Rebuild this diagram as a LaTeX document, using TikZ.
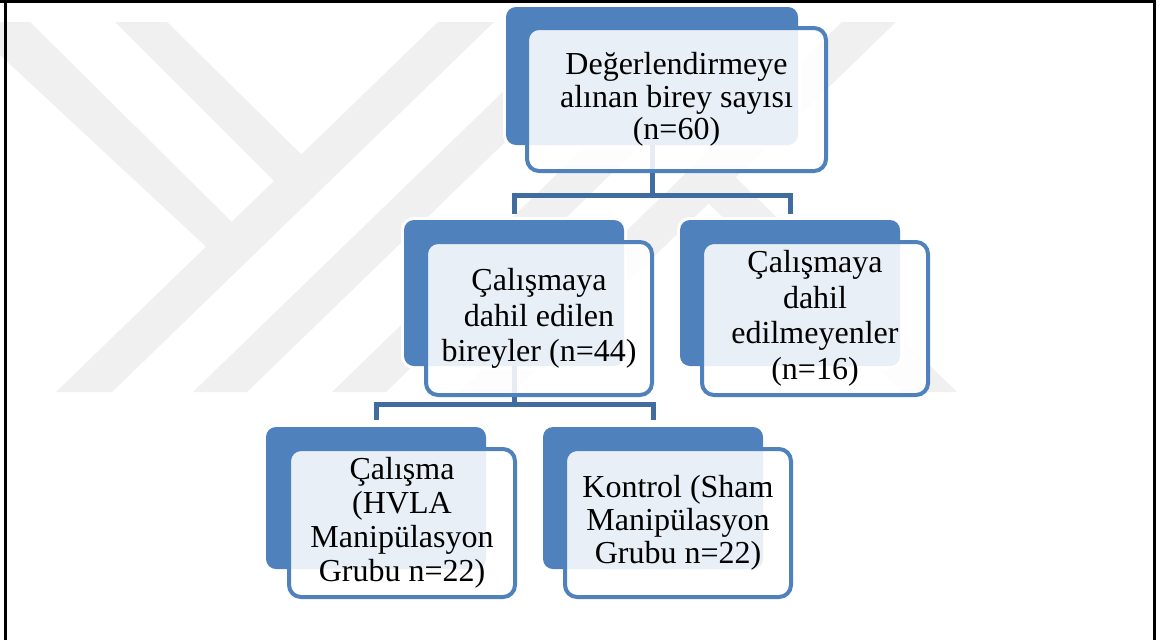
\documentclass[tikz,border=0pt]{standalone}
\usepackage{fontspec}
\setmainfont{Liberation Serif}
\definecolor{bblue}{RGB}{79,129,189}
\definecolor{cblue}{RGB}{64,108,160}
\definecolor{wmgray}{RGB}{240,240,240}
\begin{document}
\begin{tikzpicture}[x=1pt,y=-1pt,
  backbox/.style={fill=bblue, preaction={draw=white, line width=6pt},
    rounded corners=10pt, inner sep=0pt, outer sep=0pt, anchor=north west},
  frontbox/.style={fill=white, fill opacity=0.875, text opacity=1, draw=bblue,
    draw opacity=1, line width=4pt, rounded corners=12pt, inner sep=0pt,
    outer sep=0pt, align=center, text=black},
  conn/.style={draw=cblue, line width=5pt},
  wm/.style={fill=wmgray, draw=none}]
\useasboundingbox (0,0) rectangle (1161,640);
\fill[white] (0,0) rectangle (1161,640);
% watermark
\fill[wm] (0,22) -- (30,22) -- (240,230) -- (215,255) -- (0,55) -- cycle;
\fill[wm] (115,22) -- (167,22) -- (312,165) -- (285,192) -- cycle;
\fill[wm] (56,392) -- (112,392) -- (494,22) -- (438,22) -- cycle;
\fill[wm] (193,392) -- (247,392) -- (629,22) -- (575,22) -- cycle;
\fill[wm] (332,392) -- (386,392) -- (768,22) -- (714,22) -- cycle;
\fill[wm] (460,392) -- (514,392) -- (896,22) -- (842,22) -- cycle;
\fill[wm] (903,392) -- (957,392) -- (728,170) -- (705,200) -- cycle;
% back boxes
\node[backbox, minimum width=292pt, minimum height=138pt] (topB) at (506,7) {};
\node[backbox, minimum width=220pt, minimum height=146pt] (mlB) at (404,220) {};
\node[backbox, minimum width=220pt, minimum height=146pt] (mrB) at (680,220) {};
\node[backbox, minimum width=220pt, minimum height=142pt] (blB) at (266,427) {};
\node[backbox, minimum width=220pt, minimum height=142pt] (brB) at (543,427) {};
% connectors
\draw[conn, shorten >=6pt] (topB.south) -- ++(0,50) -| (mlB.north);
\draw[conn, shorten >=6pt] (topB.south) -- ++(0,50) -| (mrB.north);
\draw[conn, shorten >=7pt] (mlB.south) -- ++(0,38) -| (blB.north);
\draw[conn, shorten >=7pt] (mlB.south) -- ++(0,38) -| (brB.north);
% front boxes
\node[frontbox, minimum width=299pt, minimum height=143pt,
  font=\fontsize{32}{32.5}\selectfont] (topF) at (676.5,99.5)
  {Değerlendirmeye\\alınan birey sayısı\\(n=60)};
\node[frontbox, minimum width=226pt, minimum height=153pt,
  font=\fontsize{32}{35.8}\selectfont] (mlF) at (539,318.5)
  {Çalışmaya\\dahil edilen\\bireyler (n=44)};
\node[frontbox, minimum width=226pt, minimum height=153pt,
  font=\fontsize{32}{35.5}\selectfont] (mrF) at (815,318.5)
  {Çalışmaya\\dahil\\edilmeyenler\\(n=16)};
\node[frontbox, minimum width=226pt, minimum height=148pt,
  font=\fontsize{32}{34}\selectfont] (blF) at (402,523)
  {Çalışma\\(HVLA\\Manipülasyon\\Grubu n=22)};
\node[frontbox, minimum width=226pt, minimum height=148pt,
  font=\fontsize{32}{33}\selectfont] (brF) at (678,523)
  {Kontrol (Sham\\Manipülasyon\\Grubu n=22)};
% frame
\draw[black, line width=3pt] (5,640) -- (5,1.5);
\draw[black, line width=3pt] (0,1.5) -- (1155.5,1.5);
\draw[black, line width=3pt] (1154,0) -- (1154,640);
\end{tikzpicture}
\end{document}
